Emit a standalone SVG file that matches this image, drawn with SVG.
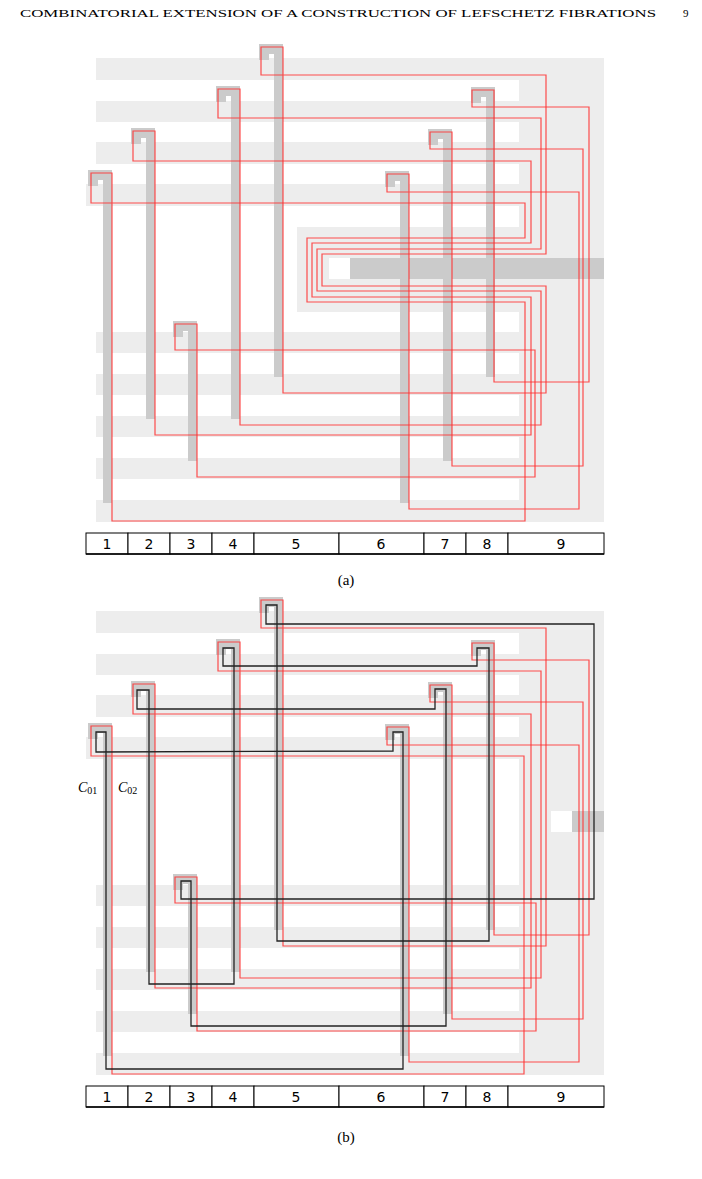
<svg xmlns="http://www.w3.org/2000/svg" width="702" height="1179" viewBox="0 0 702 1179">
<style>
.bg{fill:#ededed}.wh{fill:#fff}.g{fill:#cbcbcb}
.r{fill:none;stroke:#ff3030;stroke-width:1.2;stroke-opacity:0.85}
.k{fill:none;stroke:#222;stroke-width:1.3}
.cell{fill:#fff;stroke:#000;stroke-width:1}
.num{font-family:"DejaVu Sans",sans-serif;font-size:14px;text-anchor:middle}
.cap{font-family:"Liberation Serif",serif;font-size:15px;text-anchor:middle}
</style>
<defs>
<path id="hook" d="M-15,0 H9 V400 H0 V10 H-5 V16 H-15 Z"/>
</defs>
<text x="20" y="17" font-family="Liberation Serif,serif" font-size="10.5" textLength="636" lengthAdjust="spacingAndGlyphs">COMBINATORIAL EXTENSION OF A CONSTRUCTION OF LEFSCHETZ FIBRATIONS</text>
<text x="683" y="17" font-family="Liberation Serif,serif" font-size="11">9</text>

<!-- panel (a) background -->
<g id="bg-a">
<rect class="bg" x="96" y="58" width="508" height="464"/>
<rect class="bg" x="86" y="184" width="10" height="22"/>
<rect class="wh" x="96" y="80" width="423" height="21"/>
<rect class="wh" x="96" y="122" width="423" height="20"/>
<rect class="wh" x="96" y="164" width="423" height="20"/>
<rect class="wh" x="96" y="206" width="423" height="21"/>
<rect class="wh" x="96" y="227" width="201" height="85"/>
<rect class="wh" x="96" y="312" width="423" height="20"/>
<rect class="wh" x="96" y="353" width="423" height="21"/>
<rect class="wh" x="96" y="395" width="423" height="21"/>
<rect class="wh" x="96" y="437" width="423" height="21"/>
<rect class="wh" x="96" y="479" width="423" height="21"/>
<rect class="wh" x="329" y="258" width="21" height="21"/>
<rect class="g" x="350" y="258" width="254" height="21"/>
</g>
<!-- panel (b) background -->
<g id="bg-b">
<rect class="bg" x="96" y="611" width="508" height="464"/>
<rect class="bg" x="86" y="737" width="10" height="22"/>
<rect class="wh" x="96" y="633" width="423" height="21"/>
<rect class="wh" x="96" y="675" width="423" height="20"/>
<rect class="wh" x="96" y="717" width="423" height="20"/>
<rect class="wh" x="96" y="759" width="423" height="126"/>
<rect class="wh" x="96" y="906" width="423" height="21"/>
<rect class="wh" x="96" y="948" width="423" height="21"/>
<rect class="wh" x="96" y="990" width="423" height="21"/>
<rect class="wh" x="96" y="1032" width="423" height="21"/>
<rect class="wh" x="551" y="811" width="21" height="21"/>
<rect class="g" x="572" y="811" width="32" height="21"/>
</g>

<!-- nodes (a) -->
<g id="a-h1"><path class="g" d="M88,170 H112 V503 H103 V180 H98 V186 H88 Z"/></g>
<g id="a-h2"><path class="g" d="M131,128 H155 V419 H146 V138 H141 V144 H131 Z"/></g>
<g id="a-h3"><path class="g" d="M173,321 H197 V461 H188 V331 H183 V337 H173 Z"/></g>
<g id="a-h4"><path class="g" d="M216,86 H240 V419 H231 V96 H226 V102 H216 Z"/></g>
<g id="a-h5"><path class="g" d="M259,44 H283 V377 H274 V54 H269 V60 H259 Z"/></g>
<g id="a-h6"><path class="g" d="M385,171 H409 V503 H400 V181 H395 V187 H385 Z"/></g>
<g id="a-h7"><path class="g" d="M428,129 H452 V461 H443 V139 H438 V145 H428 Z"/></g>
<g id="a-h8"><path class="g" d="M471,87 H495 V377 H486 V97 H481 V103 H471 Z"/></g>

<!-- nodes (b) -->
<g id="b-h1"><path class="g" d="M88,723 H112 V1056 H103 V733 H98 V739 H88 Z"/></g>
<g id="b-h2"><path class="g" d="M131,681 H155 V972 H146 V691 H141 V697 H131 Z"/></g>
<g id="b-h3"><path class="g" d="M173,874 H197 V1014 H188 V884 H183 V890 H173 Z"/></g>
<g id="b-h4"><path class="g" d="M216,639 H240 V972 H231 V649 H226 V655 H216 Z"/></g>
<g id="b-h5"><path class="g" d="M259,597 H283 V930 H274 V607 H269 V613 H259 Z"/></g>
<g id="b-h6"><path class="g" d="M385,724 H409 V1056 H400 V734 H395 V740 H385 Z"/></g>
<g id="b-h7"><path class="g" d="M428,682 H452 V1014 H443 V692 H438 V698 H428 Z"/></g>
<g id="b-h8"><path class="g" d="M471,640 H495 V930 H486 V650 H481 V656 H471 Z"/></g>

<g id="connectors">
<!-- (a) red -->
<path class="r" d="M91,203 H525 V238 H307 V302 H525 V521 H112 V173 H91 Z"/>
<path class="r" d="M133,161 H531 V243 H312 V297 H531 V435 H155 V131 H133 Z"/>
<path class="r" d="M218,118 H541 V249 H317 V291 H541 V425 H240 V89 H218 Z"/>
<path class="r" d="M261,75 H546 V254 H322 V286 H546 V393 H283 V47 H261 Z"/>
<path class="r" d="M175,350 H535 V477 H197 V324 H175 Z"/>
<path class="r" d="M472,107 H589 V382 H494 V90 H472 Z"/>
<path class="r" d="M430,149 H583 V466 H452 V132 H430 Z"/>
<path class="r" d="M387,192 H579 V509 H409 V174 H387 Z"/>
<!-- (b) red -->
<path class="r" d="M91,756 H524 V1074 H112 V726 H91 Z"/>
<path class="r" d="M133,714 H531 V988 H155 V684 H133 Z"/>
<path class="r" d="M218,671 H541 V978 H240 V642 H218 Z"/>
<path class="r" d="M261,628 H546 V946 H283 V600 H261 Z"/>
<path class="r" d="M175,903 H536 V1031 H197 V877 H175 Z"/>
<path class="r" d="M472,660 H589 V935 H494 V643 H472 Z"/>
<path class="r" d="M430,702 H583 V1019 H452 V685 H430 Z"/>
<path class="r" d="M387,745 H579 V1062 H409 V727 H387 Z"/>
<!-- (b) black -->
<path class="k" d="M266,624 V605 H277 V941 H489 V648 H477 V666 H223 V648 H234 V984 H149 V690 H137 V709 H435 V689 H446 V1026 H191 V881 H181 V899 H594 V624 Z"/>
<path class="k" d="M96,752 V732 H106 V1069 H403 V732 H393 V751 Z"/>
</g>

<g id="table-a">
<rect class="cell" x="86" y="533" width="42" height="21"/><rect class="cell" x="128" y="533" width="42" height="21"/>
<rect class="cell" x="170" y="533" width="42" height="21"/><rect class="cell" x="212" y="533" width="42" height="21"/>
<rect class="cell" x="254" y="533" width="85" height="21"/><rect class="cell" x="339" y="533" width="85" height="21"/>
<rect class="cell" x="424" y="533" width="42" height="21"/><rect class="cell" x="466" y="533" width="42" height="21"/>
<rect class="cell" x="508" y="533" width="96" height="21"/>
<line x1="86" y1="554" x2="604" y2="554" stroke="#000" stroke-width="1.6"/>
<text class="num" x="107" y="549">1</text><text class="num" x="149" y="549">2</text><text class="num" x="191" y="549">3</text><text class="num" x="233" y="549">4</text><text class="num" x="296" y="549">5</text><text class="num" x="381" y="549">6</text><text class="num" x="445" y="549">7</text><text class="num" x="487" y="549">8</text><text class="num" x="561" y="549">9</text>
</g>
<g id="table-b">
<rect class="cell" x="86" y="1086" width="42" height="21"/><rect class="cell" x="128" y="1086" width="42" height="21"/>
<rect class="cell" x="170" y="1086" width="42" height="21"/><rect class="cell" x="212" y="1086" width="42" height="21"/>
<rect class="cell" x="254" y="1086" width="85" height="21"/><rect class="cell" x="339" y="1086" width="85" height="21"/>
<rect class="cell" x="424" y="1086" width="42" height="21"/><rect class="cell" x="466" y="1086" width="42" height="21"/>
<rect class="cell" x="508" y="1086" width="96" height="21"/>
<line x1="86" y1="1107" x2="604" y2="1107" stroke="#000" stroke-width="1.6"/>
<text class="num" x="107" y="1102">1</text><text class="num" x="149" y="1102">2</text><text class="num" x="191" y="1102">3</text><text class="num" x="233" y="1102">4</text><text class="num" x="296" y="1102">5</text><text class="num" x="381" y="1102">6</text><text class="num" x="445" y="1102">7</text><text class="num" x="487" y="1102">8</text><text class="num" x="561" y="1102">9</text>
</g>
<text class="cap" x="346" y="585">(a)</text>
<text class="cap" x="346" y="1142">(b)</text>
<g font-family="Liberation Serif,serif" font-size="14">
<text x="78" y="792"><tspan font-style="italic">C</tspan><tspan font-size="10" dy="2">01</tspan></text>
<text x="118" y="792"><tspan font-style="italic">C</tspan><tspan font-size="10" dy="2">02</tspan></text>
</g>
</svg>
